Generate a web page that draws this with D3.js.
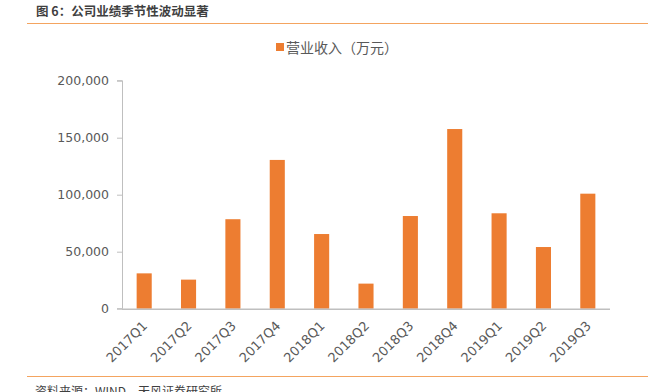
<!DOCTYPE html>
<html>
<head>
<meta charset="utf-8">
<script src="https://cdn.jsdelivr.net/npm/d3@7/dist/d3.min.js"></script>
<style>
  body { margin: 0; background: #fff; }
  svg { display: block; font-family: "Microsoft YaHei", "Noto Sans CJK SC", sans-serif; }
</style>
</head>
<body>
<svg id="chart" width="664" height="392"></svg>
<script>
// quarters and revenue (万元)
var quarters = ["2017Q1", "2017Q2", "2017Q3", "2017Q4", "2018Q1", "2018Q2", "2018Q3", "2018Q4", "2019Q1", "2019Q2", "2019Q3"];
var revenue = [31000, 25500, 78500, 130500, 65500, 22000, 81300, 157600, 83700, 54100, 100900];
var yTicks = [0, 50000, 100000, 150000, 200000];

var titleText = "图 6：公司业绩季节性波动显著";
var legendText = "营业收入（万元）";
var sourceText = "资料来源：WIND，天风证券研究所";

var orange = "#ed7d31";
var grey = "#595959";

var svg = d3.select("#chart");

// header and footer
svg.append("text").attr("x", 36).attr("y", 16)
    .attr("font-size", 12.5).attr("font-weight", "bold").attr("fill", "#3f3f3f")
    .text(titleText);
svg.append("line").attr("x1", 27).attr("x2", 648).attr("y1", 23.5).attr("y2", 23.5)
    .attr("stroke", "#f4a460").attr("stroke-width", 1.2);
svg.append("line").attr("x1", 27).attr("x2", 648).attr("y1", 376.5).attr("y2", 376.5)
    .attr("stroke", "#f4a460").attr("stroke-width", 1.2);
svg.append("text").attr("x", 35).attr("y", 396)
    .attr("font-size", 12).attr("fill", "#3f3f3f")
    .text(sourceText);

// plot area
var plotLeft = 122, plotRight = 610, plotTop = 80.7, plotBottom = 308.7;

var x = d3.scaleBand().domain(quarters).range([plotLeft, plotRight]).paddingInner(0.66).paddingOuter(0.33);
var y = d3.scaleLinear().domain([0, 200000]).range([plotBottom, plotTop]);

// y axis
var yAxis = svg.append("g").attr("transform", "translate(" + plotLeft + ",0)")
    .call(d3.axisLeft(y).tickValues(yTicks).tickSize(5).tickPadding(8)
        .tickFormat(d3.format(",")));
yAxis.select(".domain").attr("stroke", "#bfbfbf").attr("d", "M-5," + plotTop + "H0.5V" + plotBottom + "H-5");
yAxis.selectAll(".tick line").attr("stroke", "#bfbfbf");
yAxis.selectAll(".tick text").attr("fill", grey)
    .attr("font-family", "'DejaVu Sans', sans-serif").style("font-size", "12.5px");

// bars
svg.append("g").selectAll("rect").data(quarters).enter().append("rect")
    .attr("x", function (d) { return x(d); })
    .attr("width", x.bandwidth())
    .attr("y", function (d, i) { return y(revenue[i]); })
    .attr("height", function (d, i) { return plotBottom - y(revenue[i]); })
    .attr("fill", orange);

// x axis
var xAxis = svg.append("g").attr("transform", "translate(0," + plotBottom + ")")
    .call(d3.axisBottom(x).tickSize(0).tickPadding(0));
xAxis.select(".domain").attr("stroke", "#bfbfbf").attr("stroke-width", 1.5).attr("d", "M" + plotLeft + ",0.5H" + plotRight);
xAxis.selectAll(".tick text")
    .attr("fill", grey)
    .attr("font-family", "'DejaVu Sans', sans-serif").style("font-size", "13px")
    .attr("text-anchor", "end")
    .attr("dy", 0)
    .attr("transform", "translate(4,18) rotate(-45)");

// legend
svg.append("rect").attr("x", 276).attr("y", 43).attr("width", 8).attr("height", 8).attr("fill", orange);
svg.append("text").attr("x", 286).attr("y", 52.5)
    .attr("font-size", 14).attr("fill", grey)
    .text(legendText);
</script>
</body>
</html>
